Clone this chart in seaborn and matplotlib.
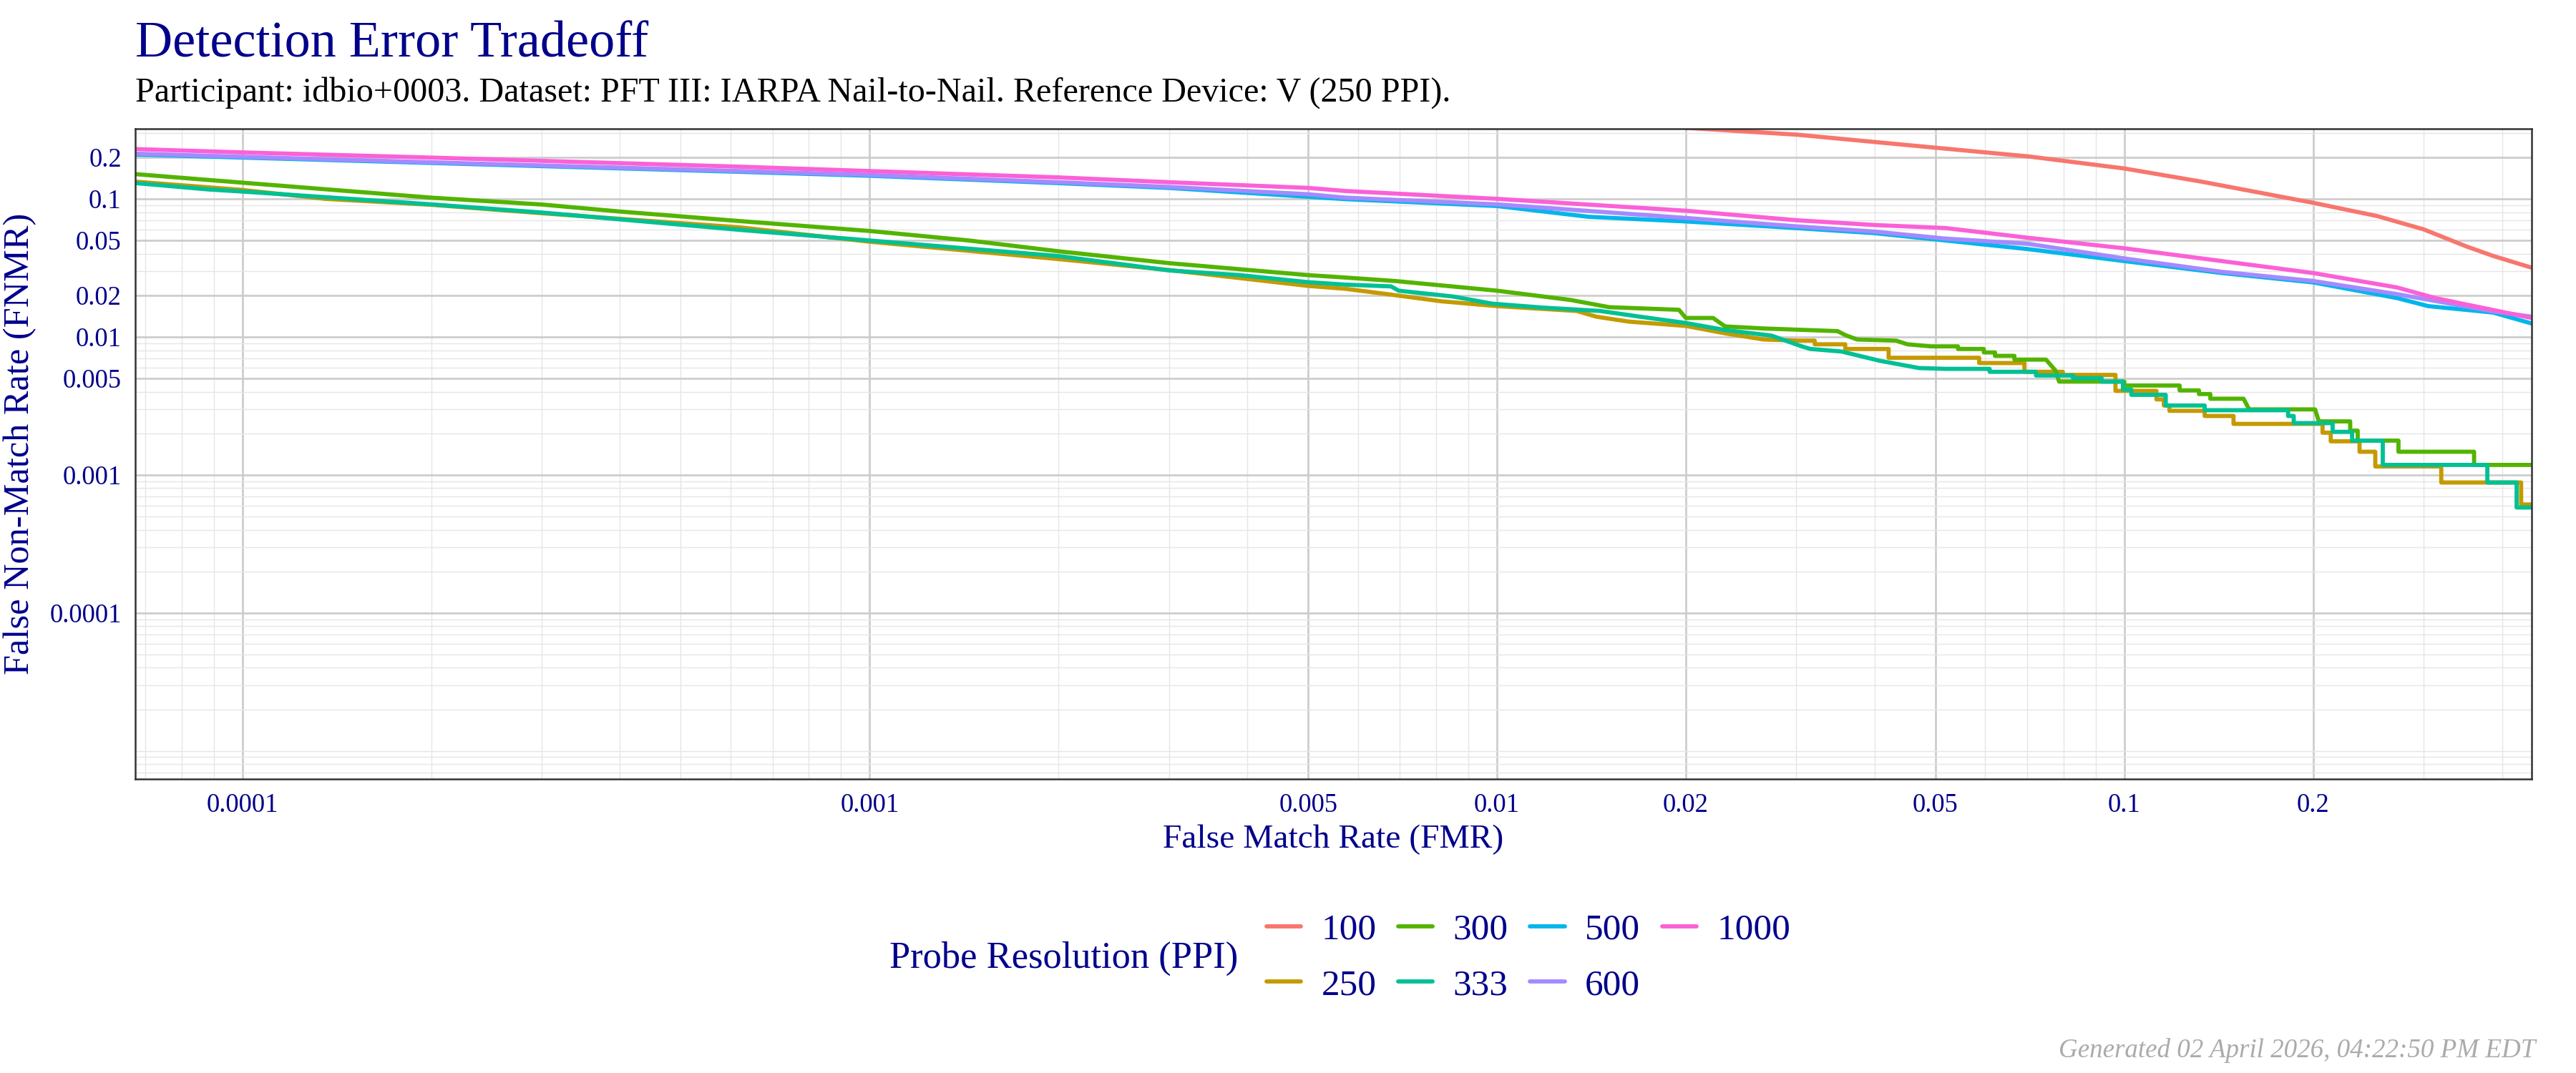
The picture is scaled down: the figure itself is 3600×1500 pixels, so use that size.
import numpy as np
import pandas as pd
import matplotlib
matplotlib.use("Agg")
import matplotlib.pyplot as plt
import seaborn as sns
from matplotlib.ticker import FixedLocator, NullFormatter


# --------------------------
# data
# --------------------------
ppi_levels = ["100", "250", "300", "333", "500", "600", "1000"]
ppi_colors = ["#F8766D", "#C49A00", "#53B400", "#00C094", "#00B6EB", "#A58AFF", "#FB61D7"]

fmr_100 = [0.0200, 0.0300, 0.0519, 0.0703, 0.100, 0.133, 0.200, 0.253, 0.300, 0.351, 0.387, 0.446]
fnmr_100 = [0.327, 0.292, 0.231, 0.203, 0.166, 0.133, 0.0936, 0.0750, 0.0601, 0.0452, 0.0386, 0.0317]

fmr_250 = [6.64e-5, 1e-4, 1.355e-4, 2e-4, 3e-4, 6.21e-4, 1e-3, 2e-3, 3e-3, 5e-3, 5.73e-3, 6.68e-3,
           8.15e-3, 0.01, 0.0134, 0.0144, 0.0162, 0.02, 0.0231, 0.0266, 0.0303, 0.0321, 0.0321,
           0.0359, 0.0359, 0.0421, 0.0421, 0.0587, 0.0587, 0.0693, 0.0693, 0.0798, 0.0798, 0.0968,
           0.0968, 0.1125, 0.1125, 0.1156, 0.1156, 0.118, 0.118, 0.1343, 0.1343, 0.1493, 0.1493,
           0.207, 0.207, 0.2133, 0.2133, 0.2371, 0.2371, 0.2512, 0.2512, 0.320, 0.320, 0.429,
           0.429, 0.45]
fnmr_250 = [0.134, 0.116, 0.100, 0.0906, 0.0787, 0.0621, 0.0489, 0.0366, 0.0305, 0.0234, 0.0223,
            0.0204, 0.0181, 0.0167, 0.0154, 0.0140, 0.0129, 0.0120, 0.0106, 0.00957, 0.00938,
            0.00938, 0.00883, 0.00883, 0.00817, 0.00817, 0.00705, 0.00705, 0.00646, 0.00646,
            0.00558, 0.00558, 0.00530, 0.00530, 0.00406, 0.00406, 0.00352, 0.00352, 0.00318,
            0.00318, 0.00291, 0.00291, 0.00267, 0.00267, 0.00234, 0.00234, 0.00202, 0.00202,
            0.00175, 0.00175, 0.00147, 0.00147, 0.00115, 0.00115, 0.00088, 0.00088, 0.00061,
            0.00061]

fmr_300 = [6.64e-5, 1e-4, 2e-4, 3e-4, 4e-4, 6.21e-4, 1e-3, 1.44e-3, 2e-3, 3e-3, 3.89e-3, 5e-3,
           5.73e-3, 6.87e-3, 0.01, 0.0131, 0.0151, 0.0195, 0.0200, 0.0221, 0.0231, 0.0266, 0.0349,
           0.0359, 0.0375, 0.0433, 0.0451, 0.0492, 0.0543, 0.0543, 0.0597, 0.0597, 0.0622, 0.0622,
           0.0668, 0.0668, 0.0750, 0.0776, 0.0787, 0.100, 0.100, 0.1225, 0.1225, 0.1315, 0.1315,
           0.1371, 0.1371, 0.1549, 0.1581, 0.2014, 0.2042, 0.2291, 0.2291, 0.2355, 0.2355, 0.2735,
           0.2735, 0.361, 0.361, 0.45]
fnmr_300 = [0.152, 0.131, 0.102, 0.0910, 0.0809, 0.0690, 0.0585, 0.0499, 0.0417, 0.0342, 0.0309,
            0.0280, 0.0269, 0.0254, 0.0216, 0.0185, 0.0164, 0.0157, 0.0137, 0.0137, 0.0119, 0.0115,
            0.0110, 0.0103, 0.00957, 0.00938, 0.00883, 0.00853, 0.00853, 0.00817, 0.00817, 0.00771,
            0.00771, 0.00728, 0.00728, 0.00684, 0.00684, 0.00573, 0.00474, 0.00474, 0.00444,
            0.00444, 0.00409, 0.00409, 0.00385, 0.00385, 0.00356, 0.00356, 0.00298, 0.00298,
            0.00244, 0.00244, 0.00209, 0.00209, 0.00177, 0.00177, 0.00147, 0.00147, 0.00118,
            0.00118]

fmr_333 = [6.64e-5, 8.83e-5, 1e-4, 2e-4, 3e-4, 6.21e-4, 1e-3, 2e-3, 3e-3, 3.89e-3, 5e-3, 5.73e-3,
           6.78e-3, 6.97e-3, 8.51e-3, 9.82e-3, 0.0118, 0.0146, 0.0169, 0.02, 0.0231, 0.0274, 0.0307,
           0.0316, 0.0354, 0.0408, 0.0471, 0.0519, 0.0610, 0.0610, 0.0723, 0.0723, 0.0828, 0.0828,
           0.0920, 0.0920, 0.0995, 0.0995, 0.1026, 0.1026, 0.1164, 0.1164, 0.1343, 0.1343, 0.1824,
           0.1824, 0.1862, 0.1862, 0.2148, 0.2148, 0.2307, 0.2307, 0.2582, 0.2582, 0.379, 0.379,
           0.422, 0.422, 0.45]
fnmr_333 = [0.131, 0.117, 0.113, 0.0912, 0.0796, 0.0596, 0.0499, 0.0385, 0.0303, 0.0280, 0.0249,
            0.0239, 0.0232, 0.0216, 0.0196, 0.0174, 0.0163, 0.0154, 0.0140, 0.0126, 0.0112, 0.0102,
            0.00849, 0.00817, 0.00783, 0.00670, 0.00594, 0.00586, 0.00586, 0.00558, 0.00558,
            0.00525, 0.00525, 0.00502, 0.00502, 0.00474, 0.00474, 0.00415, 0.00415, 0.00380,
            0.00380, 0.00318, 0.00318, 0.00294, 0.00294, 0.00267, 0.00267, 0.00237, 0.00237,
            0.00205, 0.00205, 0.00177, 0.00177, 0.00118, 0.00118, 0.00088, 0.00088, 0.00058,
            0.00058]

fmr_500 = [6.64e-5, 2e-4, 6.21e-4, 1e-3, 2e-3, 3e-3, 5.73e-3, 0.01, 0.0140, 0.02, 0.03, 0.04,
           0.0519, 0.0703, 0.1, 0.143, 0.2, 0.272, 0.305, 0.387, 0.446]
fnmr_500 = [0.210, 0.182, 0.157, 0.147, 0.130, 0.120, 0.0995, 0.0887, 0.0741, 0.0686, 0.0614,
            0.0564, 0.0499, 0.0432, 0.0354, 0.0290, 0.0248, 0.0191, 0.0167, 0.0150, 0.0125]

fmr_600 = [6.64e-5, 2e-4, 6.21e-4, 1e-3, 2e-3, 3e-3, 5e-3, 5.73e-3, 0.01, 0.02, 0.03, 0.04,
           0.0519, 0.0703, 0.1, 0.143, 0.2, 0.272, 0.313, 0.387, 0.446]
fnmr_600 = [0.213, 0.184, 0.159, 0.149, 0.132, 0.122, 0.108, 0.102, 0.0912, 0.0727, 0.0632,
            0.0579, 0.0515, 0.0472, 0.0370, 0.0296, 0.0254, 0.0204, 0.0182, 0.0153, 0.0140]

fmr_1000 = [6.64e-5, 1e-4, 2e-4, 6.21e-4, 1e-3, 2e-3, 3e-3, 5e-3, 5.73e-3, 0.01, 0.02, 0.03, 0.04,
            0.0519, 0.0703, 0.1, 0.143, 0.2, 0.272, 0.313, 0.446]
fnmr_1000 = [0.230, 0.217, 0.199, 0.171, 0.159, 0.143, 0.132, 0.120, 0.114, 0.100, 0.0820, 0.0700,
             0.0646, 0.0614, 0.0522, 0.0438, 0.0354, 0.0290, 0.0228, 0.0191, 0.0137]

x_ticks = [1e-4, 1e-3, 5e-3, 0.01, 0.02, 0.05, 0.1, 0.2]
x_tick_labels = ["0.0001", "0.001", "0.005", "0.01", "0.02", "0.05", "0.1", "0.2"]
y_ticks = [1e-4, 1e-3, 5e-3, 0.01, 0.02, 0.05, 0.1, 0.2]
y_tick_labels = ["0.0001", "0.001", "0.005", "0.01", "0.02", "0.05", "0.1", "0.2"]

TEXT_BLUE = "#00008B"


def build_frame():
    series = {
        "100": (fmr_100, fnmr_100),
        "250": (fmr_250, fnmr_250),
        "300": (fmr_300, fnmr_300),
        "333": (fmr_333, fnmr_333),
        "500": (fmr_500, fnmr_500),
        "600": (fmr_600, fnmr_600),
        "1000": (fmr_1000, fnmr_1000),
    }
    frames = []
    for ppi in ppi_levels:
        fmr, fnmr = series[ppi]
        frames.append(pd.DataFrame({"fmr": fmr, "fnmr": fnmr, "ppi": ppi}))
    return pd.concat(frames, ignore_index=True)


def plot_det(df):
    sns.set_theme(style="white")
    plt.rcParams["font.family"] = ["Liberation Serif", "DejaVu Serif"]

    fig = plt.figure(figsize=(12, 5), dpi=300)
    ax = fig.add_axes([0.0525, 0.274, 0.9303, 0.606])
    ax.set_xscale("log")
    ax.set_yscale("log")

    sns.lineplot(data=df, x="fmr", y="fnmr", hue="ppi", hue_order=ppi_levels,
                 palette=ppi_colors, estimator=None, sort=False, linewidth=1.4,
                 solid_joinstyle="round", solid_capstyle="round", ax=ax)

    ax.set_xlim(6.75e-5, 0.446)
    ax.set_ylim(6.25e-6, 0.322)

    # grid: majors at labelled breaks, minors at every 1..9 x 10^k
    minor_pos = [m * 10.0 ** k for k in range(-7, 1) for m in range(1, 10)]
    ax.xaxis.set_major_locator(FixedLocator(x_ticks))
    ax.yaxis.set_major_locator(FixedLocator(y_ticks))
    ax.xaxis.set_minor_locator(FixedLocator(minor_pos))
    ax.yaxis.set_minor_locator(FixedLocator(minor_pos))
    ax.set_xticklabels(x_tick_labels)
    ax.set_yticklabels(y_tick_labels)
    ax.xaxis.set_minor_formatter(NullFormatter())
    ax.yaxis.set_minor_formatter(NullFormatter())

    ax.set_axisbelow(True)
    ax.grid(which="minor", color="#e6e6e6", linewidth=0.35)
    ax.grid(which="major", color="#cccccc", linewidth=0.65)
    ax.tick_params(which="minor", length=0)
    ax.tick_params(which="major", length=2.2, width=0.6, color="#333333",
                   labelcolor=TEXT_BLUE, labelsize=8.8, pad=2.4)
    for sp in ax.spines.values():
        sp.set_visible(True)
        sp.set_color("#333333")
        sp.set_linewidth(0.6)

    ax.set_xlabel("False Match Rate (FMR)", fontsize=11.4, color=TEXT_BLUE)
    ax.set_ylabel("False Non-Match Rate (FNMR)", fontsize=12.1, color=TEXT_BLUE)
    ax.xaxis.set_label_coords(0.5, -0.07)
    ax.yaxis.set_label_coords(-0.0412, 0.515)

    # legend below, title on the left of the keys
    handles, labels = ax.get_legend_handles_labels()
    ax.get_legend().remove()
    fig.legend(handles, labels, loc="center left", bbox_to_anchor=(1770 / 3600, 1 - 1339 / 1500),
               ncol=4, frameon=False, fontsize=12.3, handlelength=0.94, handletextpad=0.55,
               columnspacing=0.6, labelspacing=0.6, borderaxespad=0, borderpad=0,
               labelcolor=TEXT_BLUE)
    fig.text(1243 / 3600, 1 - 1340 / 1500, "Probe Resolution (PPI)", fontsize=12.6,
             color=TEXT_BLUE, ha="left", va="center")

    fig.text(189 / 3600, 1 - 79 / 1500, "Detection Error Tradeoff", fontsize=17.3,
             color=TEXT_BLUE, ha="left", va="baseline")
    fig.text(189 / 3600, 1 - 142 / 1500,
             "Participant: idbio+0003. Dataset: PFT III: IARPA Nail-to-Nail. "
             "Reference Device: V (250 PPI).",
             fontsize=11.55, color="black", ha="left", va="baseline")
    fig.text(3543 / 3600, 1 - 1478 / 1500, "Generated 02 April 2026, 04:22:50 PM EDT",
             fontsize=8.9, style="italic", color="#ababab", ha="right", va="baseline")

    fig.savefig("out.png", dpi=300)


if __name__ == "__main__":
    df = build_frame()
    plot_det(df)
